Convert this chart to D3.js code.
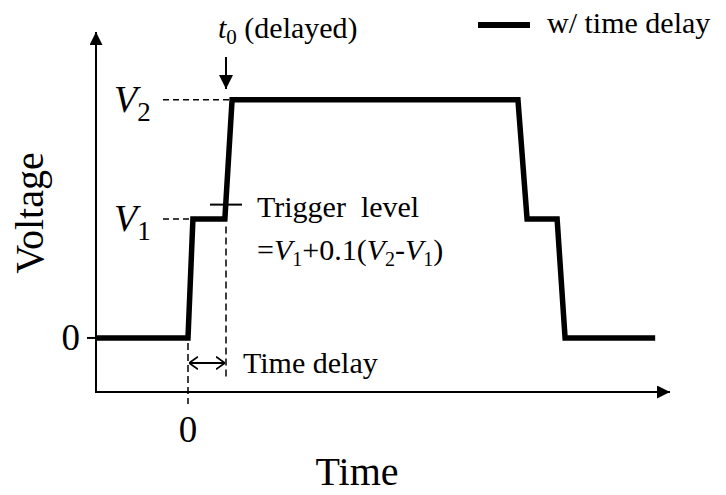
<!DOCTYPE html>
<html>
<head>
<meta charset="utf-8">
<script src="https://cdn.jsdelivr.net/npm/d3@7"></script>
<style>
  html, body { margin: 0; padding: 0; background: #fff; }
  svg { display: block; }
  text { font-family: "Liberation Serif", "Times New Roman", serif; fill: #000; }
</style>
</head>
<body>
<svg id="chart" width="726" height="495"></svg>
<script>
// ---- data (arbitrary units: time in units of the delay, voltage with V1 = 1, V2 = 2) ----
const timePoints    = [-2.42, 0, 0.13, 0.97, 1.16, 8.68, 8.92, 9.71, 9.92, 12.29];
const voltagePoints = [0, 0, 1, 1, 2, 2, 1, 1, 0, 0];
const levelNames    = ["V1", "V2"];
const levelValues   = [1, 2];
const triggerLevel  = 1.12;
const delayStart    = 0;
const delayEnd      = 1.0;
const xTickLabels   = ["0"];
const yTickLabels   = ["0"];
const seriesName    = "w/ time delay";

const svg = d3.select("#chart");
const x = d3.scaleLinear().domain([-2.42, 12.68]).range([96, 670]);
const y = d3.scaleLinear().domain([-0.454, 2.57]).range([392, 32]);

// arrowheads
const defs = svg.append("defs");
defs.append("marker").attr("id", "tri").attr("viewBox", "0 0 10 10")
  .attr("refX", 10).attr("refY", 5).attr("markerWidth", 13).attr("markerHeight", 13)
  .attr("markerUnits", "userSpaceOnUse").attr("orient", "auto")
  .append("path").attr("d", "M0,0 L10,5 L0,10 Z").attr("fill", "#000");
defs.append("marker").attr("id", "tri2").attr("viewBox", "0 0 10 10")
  .attr("refX", 10).attr("refY", 5).attr("markerWidth", 16).attr("markerHeight", 14)
  .attr("markerUnits", "userSpaceOnUse").attr("orient", "auto")
  .append("path").attr("d", "M0,0 L10,5 L0,10 Z").attr("fill", "#000");
defs.append("marker").attr("id", "chev").attr("viewBox", "0 0 10 16")
  .attr("refX", 10).attr("refY", 8).attr("markerWidth", 9).attr("markerHeight", 15)
  .attr("markerUnits", "userSpaceOnUse").attr("orient", "auto-start-reverse")
  .append("path").attr("d", "M0,1 L10,8 L0,15").attr("fill", "none")
  .attr("stroke", "#000").attr("stroke-width", 2);

// axes
const x0 = x.domain()[0], x1 = x.domain()[1];
const y0 = y.domain()[0], y1 = y.domain()[1];
svg.append("line").attr("x1", x(x0)).attr("y1", y(y0)).attr("x2", x(x0)).attr("y2", y(y1))
  .attr("stroke", "#000").attr("stroke-width", 2).attr("marker-end", "url(#tri)");
svg.append("line").attr("x1", x(x0) - 1).attr("y1", y(y0)).attr("x2", x(x1)).attr("y2", y(y0))
  .attr("stroke", "#000").attr("stroke-width", 2).attr("marker-end", "url(#tri)");

// y tick "0"
svg.append("line").attr("x1", x(x0) - 9).attr("x2", x(x0)).attr("y1", y(0)).attr("y2", y(0))
  .attr("stroke", "#000").attr("stroke-width", 2);
svg.append("text").attr("x", x(x0) - 16).attr("y", y(0) + 12).attr("text-anchor", "end")
  .attr("font-size", 37).text(yTickLabels[0]);
// x tick "0"
svg.append("text").attr("x", x(0)).attr("y", 442).attr("text-anchor", "middle")
  .attr("font-size", 37).text(xTickLabels[0]);

// level labels and dashed guide lines
const lvlIdx = [0, 1];
lvlIdx.forEach(i => {
  const v = levelValues[i];
  const tEnd = i === 0 ? timePoints[2] : timePoints[4];
  svg.append("line").attr("x1", 163).attr("x2", x(tEnd)).attr("y1", y(v)).attr("y2", y(v))
    .attr("stroke", "#000").attr("stroke-width", 1.5).attr("stroke-dasharray", "6,4");
  const t = svg.append("text").attr("x", 114).attr("y", y(v) + 12).attr("font-size", 38);
  t.append("tspan").attr("font-style", "italic").text(levelNames[i].charAt(0));
  t.append("tspan").attr("font-size", 27).attr("dy", 9).text(levelNames[i].slice(1));
});

// vertical dashed lines for delay
svg.append("line").attr("x1", x(delayStart)).attr("x2", x(delayStart)).attr("y1", y(0) + 5).attr("y2", 404)
  .attr("stroke", "#000").attr("stroke-width", 1.5).attr("stroke-dasharray", "7,4");
svg.append("line").attr("x1", x(delayEnd)).attr("x2", x(delayEnd)).attr("y1", y(triggerLevel) + 22).attr("y2", 378)
  .attr("stroke", "#000").attr("stroke-width", 1.5).attr("stroke-dasharray", "7,4");

// double arrow
svg.append("line").attr("x1", x(delayStart) + 1).attr("x2", x(delayEnd) - 1).attr("y1", 363).attr("y2", 363)
  .attr("stroke", "#000").attr("stroke-width", 2)
  .attr("marker-start", "url(#chev)").attr("marker-end", "url(#chev)");
svg.append("text").attr("x", 243).attr("y", 373).attr("font-size", 30).text("Time delay");

// trigger tick
svg.append("line").attr("x1", 210).attr("x2", 242).attr("y1", y(triggerLevel)).attr("y2", y(triggerLevel))
  .attr("stroke", "#000").attr("stroke-width", 2);
svg.append("text").attr("x", 257).attr("y", 217).attr("font-size", 30)
  .attr("xml:space", "preserve").style("white-space", "pre").text("Trigger  level");
const f = svg.append("text").attr("x", 257).attr("y", 260).attr("font-size", 30);
f.append("tspan").text("=");
f.append("tspan").attr("font-style", "italic").text("V");
f.append("tspan").attr("font-size", 20).attr("dy", 6).text("1");
f.append("tspan").attr("dy", -6).text("+0.1(");
f.append("tspan").attr("font-style", "italic").text("V");
f.append("tspan").attr("font-size", 20).attr("dy", 6).text("2");
f.append("tspan").attr("dy", -6).text("-");
f.append("tspan").attr("font-style", "italic").text("V");
f.append("tspan").attr("font-size", 20).attr("dy", 6).text("1");
f.append("tspan").attr("dy", -6).text(")");

// t0 annotation
const ttl = svg.append("text").attr("x", 218).attr("y", 38).attr("font-size", 30);
ttl.append("tspan").attr("font-style", "italic").text("t");
ttl.append("tspan").attr("font-size", 21).attr("dy", 6).text("0");
ttl.append("tspan").attr("dy", -6).text(" (delayed)");
svg.append("line").attr("x1", x(delayEnd)).attr("x2", x(delayEnd)).attr("y1", 57).attr("y2", 89)
  .attr("stroke", "#000").attr("stroke-width", 2).attr("marker-end", "url(#tri2)");

// waveform
const data = timePoints.map((t, i) => ({ t, v: voltagePoints[i] }));
svg.append("path").datum(data)
  .attr("d", d3.line().x(d => x(d.t)).y(d => y(d.v)))
  .attr("fill", "none").attr("stroke", "#000").attr("stroke-width", 5.5)
  .attr("stroke-linejoin", "miter").attr("stroke-linecap", "butt");

// legend
svg.append("line").attr("x1", 478).attr("x2", 530).attr("y1", 25).attr("y2", 25)
  .attr("stroke", "#000").attr("stroke-width", 6);
svg.append("text").attr("x", 547).attr("y", 33).attr("font-size", 30).text(seriesName);

// axis titles
svg.append("text").attr("x", 357).attr("y", 485).attr("text-anchor", "middle")
  .attr("font-size", 40).text("Time");
svg.append("text").attr("transform", "translate(43,213) rotate(-90)").attr("text-anchor", "middle")
  .attr("font-size", 40).text("Voltage");
</script>
</body>
</html>
